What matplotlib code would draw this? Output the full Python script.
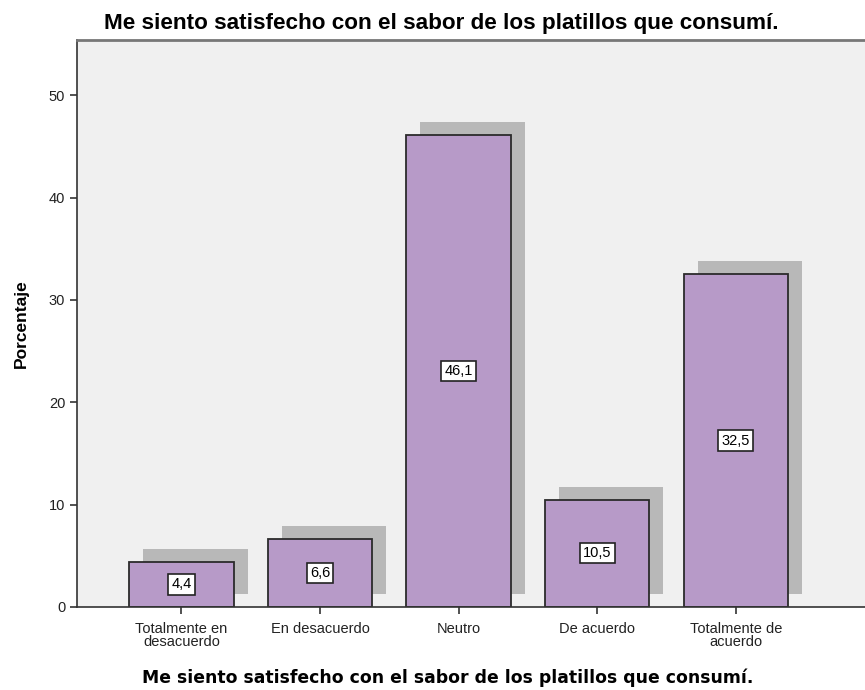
import matplotlib.pyplot as plt
from matplotlib.transforms import ScaledTranslation

categories = ["Totalmente en\ndesacuerdo", "En desacuerdo", "Neutro",
              "De acuerdo", "Totalmente de\nacuerdo"]
percentages = [4.4, 6.6, 46.1, 10.5, 32.5]
value_labels = ["4,4", "6,6", "46,1", "10,5", "32,5"]

title = "Me siento satisfecho con el sabor de los platillos que consumí."

plt.rcParams['font.family'] = ['Liberation Sans', 'DejaVu Sans']

fig = plt.figure(figsize=(8.65, 6.9), dpi=100)
ax = fig.add_axes([0.089, 0.1203, 0.915, 0.8217])
ax.set_facecolor('#F0F0F0')

x = list(range(len(categories)))
width = 0.754

# drop shadow behind each bar
shadow = ax.transData + ScaledTranslation(14 / 100, 13 / 100, fig.dpi_scale_trans)
ax.bar(x, percentages, width=width, color='#B8B8B8', linewidth=0,
       transform=shadow, zorder=1)
ax.bar(x, percentages, width=width, color='#B79AC8', edgecolor='#2b2b2b',
       linewidth=1.3, zorder=2)

for xi, v, lab in zip(x, percentages, value_labels):
    ax.text(xi, v / 2, lab, ha='center', va='center', fontsize=10.5,
            zorder=3, bbox=dict(boxstyle='square,pad=0.22', fc='white',
                                ec='#222222', lw=1.2))

ax.set_xlim(-0.754, 4.957)
ax.set_ylim(0, 55.4)
ax.set_yticks([0, 10, 20, 30, 40, 50])
ax.set_xticks(x)
ax.set_xticklabels(categories, fontsize=10.5, linespacing=0.9)
ax.tick_params(axis='both', direction='out', length=5, width=1.2,
               color='#333333', labelcolor='#222222', labelsize=10.5)
ax.tick_params(axis='x', pad=6)

for side in ['left', 'bottom']:
    ax.spines[side].set_color('#333333')
    ax.spines[side].set_linewidth(1.2)
ax.spines['top'].set_color('#777777')
ax.spines['top'].set_linewidth(2)
ax.spines['right'].set_visible(False)

ax.set_ylabel("Porcentaje", fontsize=12.5, fontweight='bold', labelpad=14)
ax.set_xlabel(title, fontsize=12.4, fontweight='bold', family='DejaVu Sans')
ax.xaxis.set_label_coords(0.468, -0.108)
ax.set_title(title, fontsize=16.2, fontweight='bold', x=0.46, y=1.0, pad=8)

fig.savefig('out.png', dpi=100)
